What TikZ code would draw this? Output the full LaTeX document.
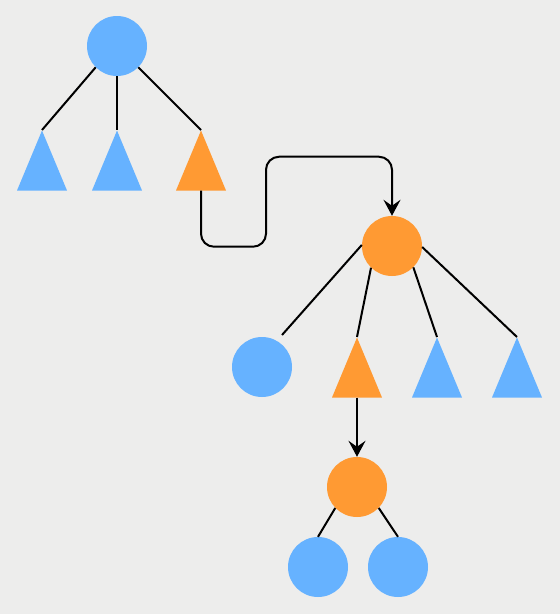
\documentclass[tikz,border=0pt]{standalone}
\usetikzlibrary{shapes.geometric,arrows.meta}
\definecolor{leafblue}{HTML}{66B2FF}
\definecolor{hitorange}{HTML}{FF9A33}
\definecolor{paper}{HTML}{EDEDEC}

\begin{document}
\begin{tikzpicture}[x=1pt,y=-1pt,
    ball/.style={circle,minimum size=60pt,inner sep=0pt},
    tri/.style={isosceles triangle,isosceles triangle stretches,shape border rotate=90,
                minimum width=50pt,minimum height=60pt,inner sep=0pt,anchor=apex},
    stem/.style={line width=2pt},
    link/.style={line width=2pt,-{Stealth[length=16pt,width=17pt,inset=6pt]}}]
    \fill[paper] (0,0) rectangle (560,614);
    % first tree
    \node[ball,fill=leafblue] (root) at (117,46) {};
    \node[tri,fill=leafblue] (t1) at (42,130) {};
    \node[tri,fill=leafblue] (t2) at (117,130) {};
    \node[tri,fill=hitorange] (t3) at (201,130) {};
    \draw[stem] (root.225) -- (t1.apex);
    \draw[stem] (root.270) -- (t2.apex);
    \draw[stem] (root.315) -- (t3.apex);
    % second tree
    \node[ball,fill=hitorange] (mid) at (392,246) {};
    \node[ball,fill=leafblue] (m1) at (262,367) {};
    \node[tri,fill=hitorange] (m2) at (357,337) {};
    \node[tri,fill=leafblue] (m3) at (437,337) {};
    \node[tri,fill=leafblue] (m4) at (517,337) {};
    \draw[stem] (mid.178) -- ([shift={(20,-32)}]m1.center);
    \draw[stem] (mid.226) -- (m2.apex);
    \draw[stem] (mid.315) -- (m3.apex);
    \draw[stem] (mid.358) -- (m4.apex);
    % third tree
    \node[ball,fill=hitorange] (low) at (357,487) {};
    \node[ball,fill=leafblue] (l1) at (318,567) {};
    \node[ball,fill=leafblue] (l2) at (398,567) {};
    \draw[stem] (low.224) -- (l1.north);
    \draw[stem] (low.316) -- (l2.north);
    % jumps
    \draw[link,rounded corners=13pt] (t3.south) -- ++(0,56) -| ++(65,-90) -| (mid.north);
    \draw[link] (m2.south) -- (low.north);
\end{tikzpicture}
\end{document}
